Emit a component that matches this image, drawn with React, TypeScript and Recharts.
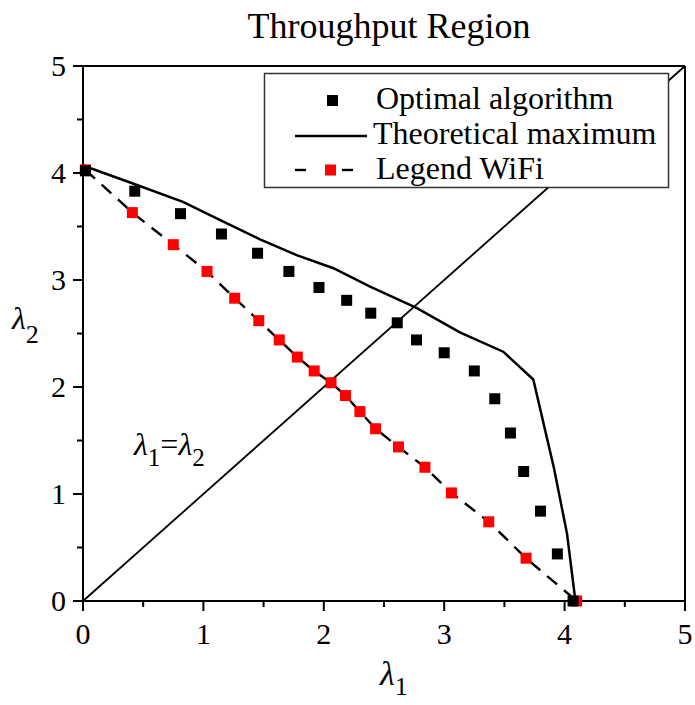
import React from 'react';
import { ScatterChart, Scatter, XAxis, YAxis, Label } from 'recharts';

const FONT = '"Liberation Serif", "Times New Roman", serif';

// tick values (major at integers, minor at halves)
const axisTicks = [0, 0.5, 1, 1.5, 2, 2.5, 3, 3.5, 4, 4.5, 5];

// Optimal algorithm (black squares)
const optimalX = [0.02, 0.43, 0.81, 1.15, 1.45, 1.71, 1.96, 2.19, 2.39, 2.61, 2.77, 3.0, 3.25, 3.42, 3.55, 3.66, 3.8, 3.94, 4.07];
const optimalY = [4.02, 3.83, 3.62, 3.43, 3.25, 3.08, 2.93, 2.81, 2.69, 2.6, 2.44, 2.32, 2.15, 1.89, 1.57, 1.21, 0.84, 0.44, 0];

// Theoretical maximum (solid line)
const theoryX = [0, 0.42, 0.83, 1.14, 1.47, 1.78, 2.08, 2.38, 2.77, 3.13, 3.49, 3.74, 3.91, 4.02, 4.09];
const theoryY = [4.07, 3.9, 3.73, 3.56, 3.38, 3.23, 3.11, 2.94, 2.74, 2.51, 2.33, 2.07, 1.25, 0.63, 0];

// Legend WiFi (dashed line, red squares)
const wifiX = [0.02, 0.41, 0.75, 1.03, 1.26, 1.46, 1.63, 1.78, 1.92, 2.06, 2.18, 2.3, 2.43, 2.62, 2.84, 3.06, 3.37, 3.68, 4.1];
const wifiY = [4.03, 3.63, 3.33, 3.08, 2.83, 2.62, 2.44, 2.28, 2.15, 2.04, 1.92, 1.77, 1.61, 1.44, 1.25, 1.01, 0.74, 0.4, 0];

// lambda1 = lambda2 diagonal
const diagX = [0, 5];
const diagY = [0, 5];

const zip = (xs: number[], ys: number[]) => xs.map((x, i) => ({ x, y: ys[i] }));

const optimalData = zip(optimalX, optimalY);
const theoryData = zip(theoryX, theoryY);
const wifiData = zip(wifiX, wifiY);
const diagData = zip(diagX, diagY);

const square = (fill: string) => (props: any) => {
  const { cx, cy } = props;
  if (cx == null || cy == null) return <g />;
  return <rect x={cx - 5.5} y={cy - 5.5} width={11} height={11} fill={fill} />;
};

const noShape = () => <g />;

const tickLen = (v: number) => (Number.isInteger(v) ? 10 : 6);

const BottomTick = (props: any) => {
  const { x, y, payload } = props;
  const v = payload.value;
  return (
    <g>
      <line x1={x} y1={y} x2={x} y2={y + tickLen(v)} stroke="#000" strokeWidth={2} />
      {Number.isInteger(v) && (
        <text x={x} y={y + 43} textAnchor="middle" fontSize={30} fontFamily={FONT} fill="#000">
          {v}
        </text>
      )}
    </g>
  );
};

const LeftTick = (props: any) => {
  const { x, y, payload } = props;
  const v = payload.value;
  return (
    <g>
      <line x1={x - tickLen(v)} y1={y} x2={x} y2={y} stroke="#000" strokeWidth={2} />
      {Number.isInteger(v) && (
        <text x={x - 17} y={y + 10} textAnchor="end" fontSize={30} fontFamily={FONT} fill="#000">
          {v}
        </text>
      )}
    </g>
  );
};

const TopTick = (props: any) => {
  const { x, y, payload } = props;
  return <line x1={x} y1={y} x2={x} y2={y + tickLen(payload.value)} stroke="#000" strokeWidth={2} />;
};

const RightTick = (props: any) => {
  const { x, y, payload } = props;
  return <line x1={x - tickLen(payload.value)} y1={y} x2={x} y2={y} stroke="#000" strokeWidth={2} />;
};

const XLabel = (props: any) => {
  const { viewBox } = props;
  const cx = viewBox.x + viewBox.width / 2;
  return (
    <text x={cx - 4} y={viewBox.y + 84} fontFamily={FONT} fontSize={34} fill="#000">
      <tspan fontStyle="italic">λ</tspan>
      <tspan fontSize={26} dy={10}>1</tspan>
    </text>
  );
};

const YLabel = (props: any) => {
  const { viewBox } = props;
  const cy = viewBox.y + viewBox.height / 2;
  return (
    <text x={12} y={cy - 5} fontFamily={FONT} fontSize={32} fill="#000">
      <tspan fontStyle="italic">λ</tspan>
      <tspan fontSize={26} dy={14}>2</tspan>
    </text>
  );
};

const App = () => {
  return (
    <div style={{ position: 'absolute', left: 0, top: 0, width: 695, height: 705, background: '#fff' }}>
      <ScatterChart width={695} height={705} margin={{ top: 56, right: 5, bottom: 44, left: 23 }}>
        <XAxis
          xAxisId="b"
          type="number"
          dataKey="x"
          domain={[0, 5]}
          ticks={axisTicks}
          interval={0}
          height={60}
          tickSize={0}
          tickMargin={0}
          tickLine={false}
          tick={<BottomTick />}
          axisLine={{ stroke: '#000', strokeWidth: 2 }}
        >
          <Label content={<XLabel />} />
        </XAxis>
        <XAxis
          xAxisId="t"
          orientation="top"
          type="number"
          domain={[0, 5]}
          ticks={axisTicks}
          interval={0}
          height={10}
          tickSize={0}
          tickMargin={0}
          tickLine={false}
          tick={<TopTick />}
          axisLine={{ stroke: '#000', strokeWidth: 2 }}
        />
        <YAxis
          yAxisId="l"
          type="number"
          dataKey="y"
          domain={[0, 5]}
          ticks={axisTicks}
          interval={0}
          width={60}
          tickSize={0}
          tickMargin={0}
          tickLine={false}
          tick={<LeftTick />}
          axisLine={{ stroke: '#000', strokeWidth: 2 }}
        >
          <Label content={<YLabel />} />
        </YAxis>
        <YAxis
          yAxisId="r"
          orientation="right"
          type="number"
          domain={[0, 5]}
          ticks={axisTicks}
          interval={0}
          width={5}
          tickSize={0}
          tickMargin={0}
          tickLine={false}
          tick={<RightTick />}
          axisLine={{ stroke: '#000', strokeWidth: 2 }}
        />
        <Scatter
          xAxisId="b"
          yAxisId="l"
          data={diagData}
          line={{ stroke: '#000', strokeWidth: 1.8 }}
          lineType="joint"
          shape={noShape}
          isAnimationActive={false}
        />
        <Scatter
          xAxisId="b"
          yAxisId="l"
          data={theoryData}
          line={{ stroke: '#000', strokeWidth: 2.5 }}
          lineType="joint"
          shape={noShape}
          isAnimationActive={false}
        />
        <Scatter
          xAxisId="b"
          yAxisId="l"
          data={wifiData}
          line={{ stroke: '#000', strokeWidth: 2.4, strokeDasharray: '13 9' }}
          lineType="joint"
          shape={square('#ff0000')}
          isAnimationActive={false}
        />
        <Scatter
          xAxisId="b"
          yAxisId="l"
          data={optimalData}
          shape={square('#000')}
          isAnimationActive={false}
        />
      </ScatterChart>

      <svg
        width={695}
        height={705}
        style={{ position: 'absolute', left: 0, top: 0, pointerEvents: 'none' }}
      >
        <text x={389} y={38} textAnchor="middle" fontFamily={FONT} fontSize={36} fill="#000">
          Throughput Region
        </text>

        <text x={134} y={455} fontFamily={FONT} fontSize={32} fill="#000">
          <tspan fontStyle="italic">λ</tspan>
          <tspan fontSize={25} dy={11}>1</tspan>
          <tspan dy={-11}>=</tspan>
          <tspan fontStyle="italic">λ</tspan>
          <tspan fontSize={25} dy={11}>2</tspan>
        </text>

        <g>
          <rect x={264.5} y={73.5} width={404} height={114} fill="#fff" stroke="#333" strokeWidth={1.5} />
          <rect x={327} y={95} width={11} height={11} fill="#000" />
          <text x={376} y={109} fontFamily={FONT} fontSize={32} fill="#000">Optimal algorithm</text>
          <line x1={295} y1={136} x2={367} y2={136} stroke="#000" strokeWidth={2.4} />
          <text x={373} y={144} fontFamily={FONT} fontSize={32} fill="#000">Theoretical maximum</text>
          <line x1={295} y1={170} x2={306} y2={170} stroke="#000" strokeWidth={2.4} />
          <rect x={325} y={164.5} width={11} height={11} fill="#ff0000" />
          <line x1={342} y1={170} x2={353} y2={170} stroke="#000" strokeWidth={2.4} />
          <text x={376} y={179} fontFamily={FONT} fontSize={32} fill="#000">Legend WiFi</text>
        </g>
      </svg>
    </div>
  );
};

export default App;
